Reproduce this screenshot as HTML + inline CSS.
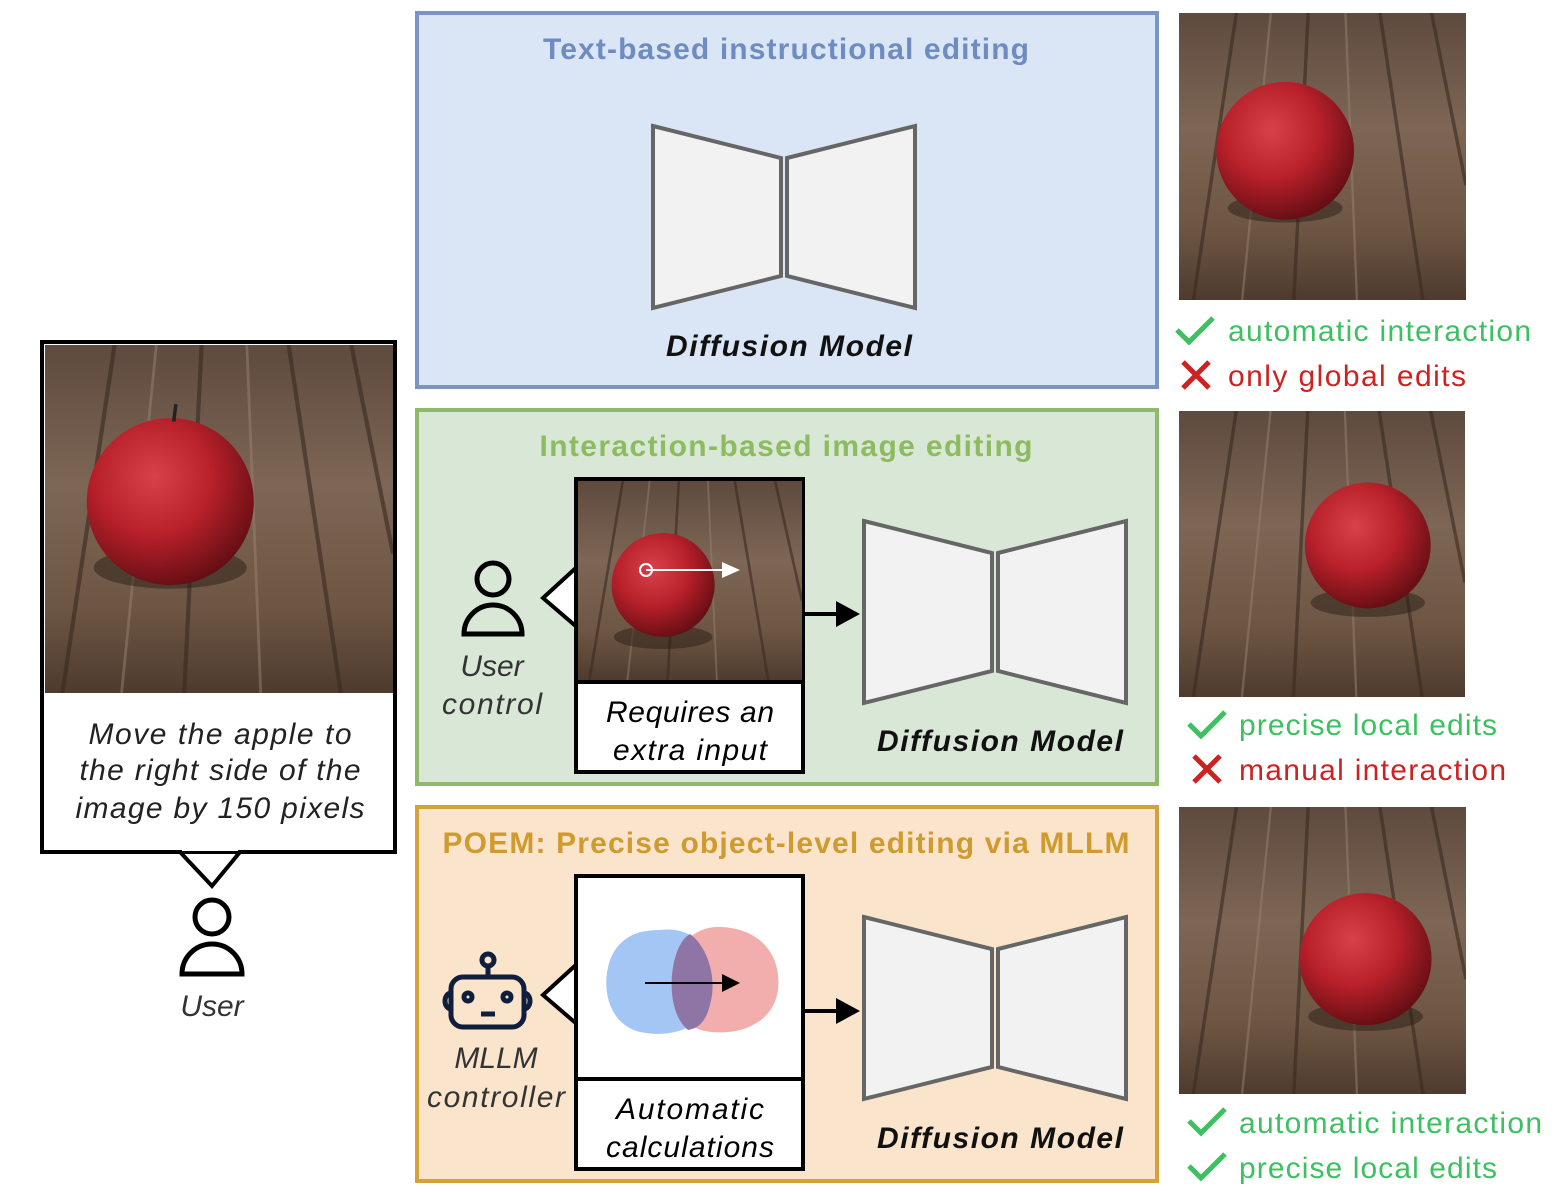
<!DOCTYPE html>
<html><head><meta charset="utf-8"><style>
html,body{margin:0;padding:0;background:#fff}
svg{display:block}
text{font-family:"Liberation Sans",sans-serif}
</style></head><body>
<svg width="1568" height="1192" viewBox="0 0 1568 1192" xmlns="http://www.w3.org/2000/svg">
<defs>
<linearGradient id="wood" x1="0" y1="0" x2="0" y2="1">
<stop offset="0" stop-color="#5e4a3e"/><stop offset="0.4" stop-color="#7d6655"/><stop offset="0.75" stop-color="#6e5644"/><stop offset="1" stop-color="#4e3b2e"/>
</linearGradient>
<radialGradient id="apple" cx="0.4" cy="0.35" r="0.7">
<stop offset="0" stop-color="#d8414a"/><stop offset="0.5" stop-color="#b8202a"/><stop offset="1" stop-color="#5e0d12"/>
</radialGradient>
<g id="woodbg">
<rect width="100" height="100" fill="url(#wood)"/>
<path d="M20 0 L5 100 M45 0 L40 100 M70 0 L85 100 M88 0 L100 60" stroke="#3a2a20" stroke-width="1.2" opacity="0.6"/>
<path d="M32 0 L22 100 M58 0 L62 100" stroke="#9a8270" stroke-width="0.8" opacity="0.5"/>
</g>
</defs>

<!-- Left user box -->
<rect x="42" y="342" width="353" height="510" fill="#fff" stroke="#000" stroke-width="4"/>
<svg x="45" y="345" width="348" height="348" viewBox="0 0 100 100" preserveAspectRatio="none">
<use href="#woodbg"/><ellipse cx="36" cy="64" rx="22" ry="6" fill="#2a1e16" opacity="0.5"/><circle cx="36" cy="45" r="24" fill="url(#apple)"/><path d="M37 22 l0.6 -5" stroke="#222" stroke-width="1"/>
</svg>
<polygon points="180,852 212,886 240,852" fill="#fff" stroke="#000" stroke-width="4"/>
<rect x="182" y="846" width="56" height="5" fill="#fff"/>
<text x="220" y="744" font-size="30" font-style="italic" text-anchor="middle" fill="#222" textLength="263">Move the apple to</text>
<text x="220" y="780" font-size="30" font-style="italic" text-anchor="middle" fill="#222" textLength="281">the right side of the</text>
<text x="220" y="818" font-size="30" font-style="italic" text-anchor="middle" fill="#222" textLength="289">image by 150 pixels</text>
<circle cx="212" cy="917" r="17" fill="none" stroke="#000" stroke-width="5"/>
<path d="M182 974 A30 30 0 0 1 242 974 Z" fill="none" stroke="#000" stroke-width="5"/>
<text x="212" y="1016" font-size="30" font-style="italic" text-anchor="middle" fill="#333">User</text>

<!-- Boxes -->
<rect x="417" y="13" width="740" height="374" fill="#dae5f6" stroke="#7b93c5" stroke-width="4"/>
<rect x="417" y="410" width="740" height="374" fill="#d9e8d6" stroke="#8fba6a" stroke-width="4"/>
<rect x="417" y="807" width="740" height="374" fill="#fae5cc" stroke="#d4a13a" stroke-width="4"/>

<text x="786" y="59" font-size="30" font-weight="bold" text-anchor="middle" fill="#6f8cc0" textLength="486">Text-based instructional editing</text>
<text x="786" y="456" font-size="30" font-weight="bold" text-anchor="middle" fill="#8dbb5f" textLength="493">Interaction-based image editing</text>
<text x="786" y="853" font-size="30" font-weight="bold" text-anchor="middle" fill="#d09b2e" textLength="687">POEM: Precise object-level editing via MLLM</text>

<g fill="#f2f2f2" stroke="#666" stroke-width="4">
<polygon points="653,126 781,158 781,276 653,308"/><polygon points="787,158 915,126 915,308 787,276"/>
<polygon points="864,521 992,553 992,671 864,703"/><polygon points="998,553 1126,521 1126,703 998,671"/>
<polygon points="864,917 992,949 992,1067 864,1099"/><polygon points="998,949 1126,917 1126,1099 998,1067"/>
</g>
<text x="789" y="356" font-size="30" font-weight="bold" font-style="italic" text-anchor="middle" fill="#111" textLength="246">Diffusion Model</text>
<text x="1000" y="751" font-size="30" font-weight="bold" font-style="italic" text-anchor="middle" fill="#111" textLength="246">Diffusion Model</text>
<text x="1000" y="1148" font-size="30" font-weight="bold" font-style="italic" text-anchor="middle" fill="#111" textLength="246">Diffusion Model</text>

<!-- Green contents -->
<circle cx="493" cy="579" r="16" fill="none" stroke="#000" stroke-width="5"/>
<path d="M464 634 A29 29 0 0 1 522 634 Z" fill="none" stroke="#000" stroke-width="5"/>
<text x="492" y="676" font-size="30" font-style="italic" text-anchor="middle" fill="#333">User</text>
<text x="492" y="714" font-size="30" font-style="italic" text-anchor="middle" fill="#333" textLength="100">control</text>
<polygon points="578,566 543,598 578,628" fill="#fff" stroke="#000" stroke-width="4"/>
<rect x="576" y="479" width="227" height="293" fill="#fff" stroke="#000" stroke-width="4"/>
<svg x="578" y="481" width="224" height="200" viewBox="0 0 100 100" preserveAspectRatio="none">
<use href="#woodbg"/><ellipse cx="38" cy="78" rx="22" ry="6" fill="#2a1e16" opacity="0.5"/><ellipse cx="38" cy="52" rx="23" ry="26" fill="url(#apple)"/>
</svg>
<line x1="576" y1="682" x2="803" y2="682" stroke="#000" stroke-width="4"/>
<line x1="646" y1="570" x2="725" y2="570" stroke="#fff" stroke-width="2"/>
<polygon points="722,562 740,570 722,578" fill="#fff"/>
<circle cx="646" cy="570" r="6" fill="none" stroke="#fff" stroke-width="2"/>
<text x="690" y="722" font-size="30" font-style="italic" text-anchor="middle" fill="#000" textLength="168">Requires an</text>
<text x="690" y="760" font-size="30" font-style="italic" text-anchor="middle" fill="#000" textLength="154">extra input</text>
<line x1="805" y1="614" x2="842" y2="614" stroke="#000" stroke-width="4"/>
<polygon points="836,601 860,614 836,627" fill="#000"/>

<!-- Orange contents -->
<g fill="none" stroke="#0f1e3c" stroke-width="5">
<rect x="451" y="977" width="73" height="50" rx="12"/>
<line x1="488" y1="977" x2="488" y2="966"/>
<circle cx="488" cy="960" r="6"/>
<circle cx="468" cy="997" r="4"/><circle cx="507" cy="997" r="4"/>
<line x1="481" y1="1014" x2="495" y2="1014"/>
<path d="M451 993 a6 8 0 0 0 0 16 M524 993 a6 8 0 0 1 0 16"/>
</g>
<text x="496" y="1068" font-size="30" font-style="italic" text-anchor="middle" fill="#333">MLLM</text>
<text x="496" y="1107" font-size="30" font-style="italic" text-anchor="middle" fill="#333" textLength="138">controller</text>
<polygon points="578,963 543,995 578,1025" fill="#fff" stroke="#000" stroke-width="4"/>
<rect x="576" y="876" width="227" height="293" fill="#fff" stroke="#000" stroke-width="4"/>
<line x1="576" y1="1079" x2="803" y2="1079" stroke="#000" stroke-width="4"/>
<path d="M660 930 C700 925 720 960 712 995 C705 1030 670 1038 640 1032 C610 1025 600 990 610 960 C620 935 640 930 660 930 Z" fill="#a3c6f5"/>
<path d="M720 927 C760 928 782 955 778 990 C774 1020 745 1035 712 1032 C685 1030 670 1010 672 975 C675 945 695 926 720 927 Z" fill="#f2adad"/>
<path d="M690 934 C705 945 715 970 712 995 C708 1020 700 1028 688 1030 C676 1020 670 1000 672 975 C674 955 680 940 690 934 Z" fill="#8f74a6"/>
<line x1="645" y1="983" x2="728" y2="983" stroke="#000" stroke-width="2"/>
<polygon points="722,974 740,983 722,992" fill="#000"/>
<text x="690" y="1119" font-size="30" font-style="italic" text-anchor="middle" fill="#000" textLength="148">Automatic</text>
<text x="690" y="1157" font-size="30" font-style="italic" text-anchor="middle" fill="#000" textLength="168">calculations</text>
<line x1="805" y1="1011" x2="842" y2="1011" stroke="#000" stroke-width="4"/>
<polygon points="836,998 860,1011 836,1024" fill="#000"/>

<!-- Right images -->
<svg x="1179" y="13" width="287" height="287" viewBox="0 0 100 100" preserveAspectRatio="none">
<use href="#woodbg"/><ellipse cx="37" cy="68" rx="20" ry="5" fill="#2a1e16" opacity="0.5"/><circle cx="37" cy="48" r="24" fill="url(#apple)"/>
</svg>
<svg x="1179" y="411" width="286" height="286" viewBox="0 0 100 100" preserveAspectRatio="none">
<use href="#woodbg"/><ellipse cx="66" cy="67" rx="20" ry="5" fill="#2a1e16" opacity="0.5"/><circle cx="66" cy="47" r="22" fill="url(#apple)"/>
</svg>
<svg x="1179" y="807" width="287" height="287" viewBox="0 0 100 100" preserveAspectRatio="none">
<use href="#woodbg"/><ellipse cx="65" cy="73" rx="20" ry="5" fill="#2a1e16" opacity="0.5"/><circle cx="65" cy="53" r="23" fill="url(#apple)"/>
</svg>

<!-- Checks / crosses -->
<g stroke-width="5" fill="none">
<path d="M1177 330 l12 12 l24 -24" stroke="#3cc060"/>
<path d="M1183 362 l26 26 M1209 362 l-26 26" stroke="#cc2222"/>
<path d="M1189 724 l12 12 l24 -24" stroke="#3cc060"/>
<path d="M1194 756 l26 26 M1220 756 l-26 26" stroke="#cc2222"/>
<path d="M1189 1121 l12 12 l24 -24" stroke="#3cc060"/>
<path d="M1189 1166 l12 12 l24 -24" stroke="#3cc060"/>
</g>
<g font-size="30">
<text x="1228" y="341" fill="#3cc060" textLength="303">automatic interaction</text>
<text x="1228" y="386" fill="#cc2222" textLength="238">only global edits</text>
<text x="1239" y="735" fill="#3cc060" textLength="258">precise local edits</text>
<text x="1239" y="780" fill="#cc2222" textLength="267">manual interaction</text>
<text x="1239" y="1133" fill="#3cc060" textLength="303">automatic interaction</text>
<text x="1239" y="1178" fill="#3cc060" textLength="258">precise local edits</text>
</g>
</svg>
</body></html>
